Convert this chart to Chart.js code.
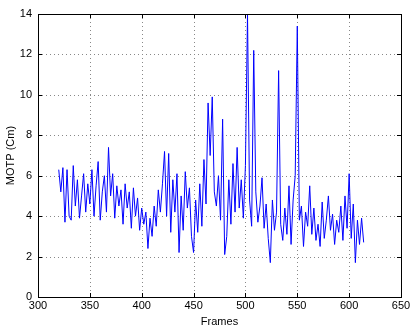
<!DOCTYPE html>
<html>
<head>
<meta charset="utf-8">
<script src="https://cdn.jsdelivr.net/npm/chart.js@4"></script>
<style>
  html, body { margin: 0; padding: 0; background: #fff; }
  #wrap { width: 415px; height: 329px; }
</style>
</head>
<body>
<div id="wrap"><canvas id="motpChart" width="415" height="329"></canvas></div>
<script>
// MOTP per frame, sampled every 2 frames starting at frame 320
const startFrame = 320;
const frameStep = 2;
const motp = [
  6.3, 5.2, 6.4, 3.7, 6.3, 4.0, 3.8, 6.5, 4.5, 5.8,
  3.9, 5.0, 6.1, 4.2, 5.6, 4.6, 6.3, 4.0, 5.5, 6.7,
  3.8, 5.2, 6.0, 4.2, 7.4, 5.0, 6.1, 3.9, 5.5, 4.5,
  5.3, 3.6, 5.6, 4.4, 5.2, 3.4, 5.4, 4.0, 4.9, 3.3,
  4.4, 3.6, 4.2, 2.4, 3.9, 3.0, 4.5, 3.5, 5.3, 4.2,
  5.6, 7.2, 4.0, 7.1, 3.2, 5.8, 4.2, 6.1, 2.2, 5.0,
  3.3, 6.2, 4.4, 5.4, 3.0, 2.2, 4.8, 3.2, 5.6, 3.5,
  6.8, 4.6, 9.6, 7.0, 9.9, 5.2, 4.5, 6.0, 3.8, 8.8,
  2.1, 3.0, 5.8, 3.6, 6.6, 4.2, 7.4, 4.4, 5.8, 3.9,
  6.5, 14.0, 4.8, 3.5, 12.2, 5.2, 3.7, 4.5, 5.9, 3.4,
  4.6, 2.9, 1.7, 4.8, 3.3, 4.2, 11.2, 3.6, 2.8, 4.4,
  3.1, 5.5, 2.6, 4.8, 6.0, 13.4, 3.8, 4.5, 2.5, 4.2,
  3.5, 5.5, 3.1, 4.4, 2.8, 3.6, 2.5, 4.7, 2.9, 3.8,
  5.0, 3.3, 4.1, 2.6, 3.8, 3.2, 4.5, 2.8, 5.0, 3.4,
  6.1, 2.9, 4.6, 1.7, 3.8, 2.6, 3.9, 2.7
];
const xTicks = [300, 350, 400, 450, 500, 550, 600, 650];
const yTicks = [0, 2, 4, 6, 8, 10, 12, 14];

const points = motp.map((v, i) => ({ x: startFrame + i * frameStep, y: v }));

// dotted grid under the line
const gridPlugin = {
  id: "dotgrid",
  beforeDatasetsDraw(chart) {
    const { ctx, chartArea: a, scales } = chart;
    ctx.save();
    ctx.strokeStyle = "#888";
    ctx.lineWidth = 1;
    ctx.setLineDash([1, 3]);
    ctx.beginPath();
    xTicks.forEach(t => {
      const px = Math.round(scales.x.getPixelForValue(t)) + 0.5;
      ctx.moveTo(px, a.top); ctx.lineTo(px, a.bottom);
    });
    yTicks.forEach(t => {
      const py = Math.round(scales.y.getPixelForValue(t)) + 0.5;
      ctx.moveTo(a.left, py); ctx.lineTo(a.right, py);
    });
    ctx.stroke();
    ctx.restore();
  }
};

// box around the plot plus inward tick marks, matlab style
const boxPlugin = {
  id: "box",
  afterDraw(chart) {
    const { ctx, chartArea: a, scales } = chart;
    ctx.save();
    ctx.strokeStyle = "#000";
    ctx.lineWidth = 1;
    ctx.strokeRect(Math.round(a.left) + 0.5, Math.round(a.top) + 0.5,
                   Math.round(a.right - a.left), Math.round(a.bottom - a.top));
    ctx.beginPath();
    xTicks.forEach(t => {
      const px = Math.round(scales.x.getPixelForValue(t)) + 0.5;
      ctx.moveTo(px, a.bottom); ctx.lineTo(px, a.bottom - 4);
      ctx.moveTo(px, a.top); ctx.lineTo(px, a.top + 4);
    });
    yTicks.forEach(t => {
      const py = Math.round(scales.y.getPixelForValue(t)) + 0.5;
      ctx.moveTo(a.left, py); ctx.lineTo(a.left + 4, py);
      ctx.moveTo(a.right, py); ctx.lineTo(a.right - 4, py);
    });
    ctx.stroke();
    ctx.restore();
  }
};

const font = { family: "'Liberation Sans', Arial, sans-serif", size: 11 };

new Chart(document.getElementById("motpChart"), {
  type: "line",
  data: {
    datasets: [{
      data: points,
      borderColor: "#0000ff",
      borderWidth: 1,
      pointRadius: 0,
      tension: 0,
      fill: false
    }]
  },
  options: {
    responsive: false,
    animation: false,
    layout: { padding: { top: 14, right: 14, left: 4, bottom: 0 } },
    plugins: { legend: { display: false }, tooltip: { enabled: false } },
    scales: {
      x: {
        type: "linear",
        min: 300,
        max: 650,
        afterBuildTicks: s => { s.ticks = xTicks.map(v => ({ value: v })); },
        afterFit: s => { s.height = 32; },
        ticks: { color: "#000", font: font, padding: 2, maxRotation: 0 },
        grid: { display: false, drawTicks: false },
        border: { display: false },
        title: { display: true, text: "Frames", color: "#000", font: font, padding: { top: 0, bottom: 0 } }
      },
      y: {
        type: "linear",
        min: 0,
        max: 14,
        afterBuildTicks: s => { s.ticks = yTicks.map(v => ({ value: v })); },
        afterFit: s => { s.width = 34; },
        ticks: { color: "#000", font: font, padding: 6 },
        grid: { display: false, drawTicks: false },
        border: { display: false },
        title: { display: true, text: "MOTP (Cm)", color: "#000", font: font, padding: { top: 0, bottom: 2 } }
      }
    }
  },
  plugins: [gridPlugin, boxPlugin]
});
</script>
</body>
</html>
